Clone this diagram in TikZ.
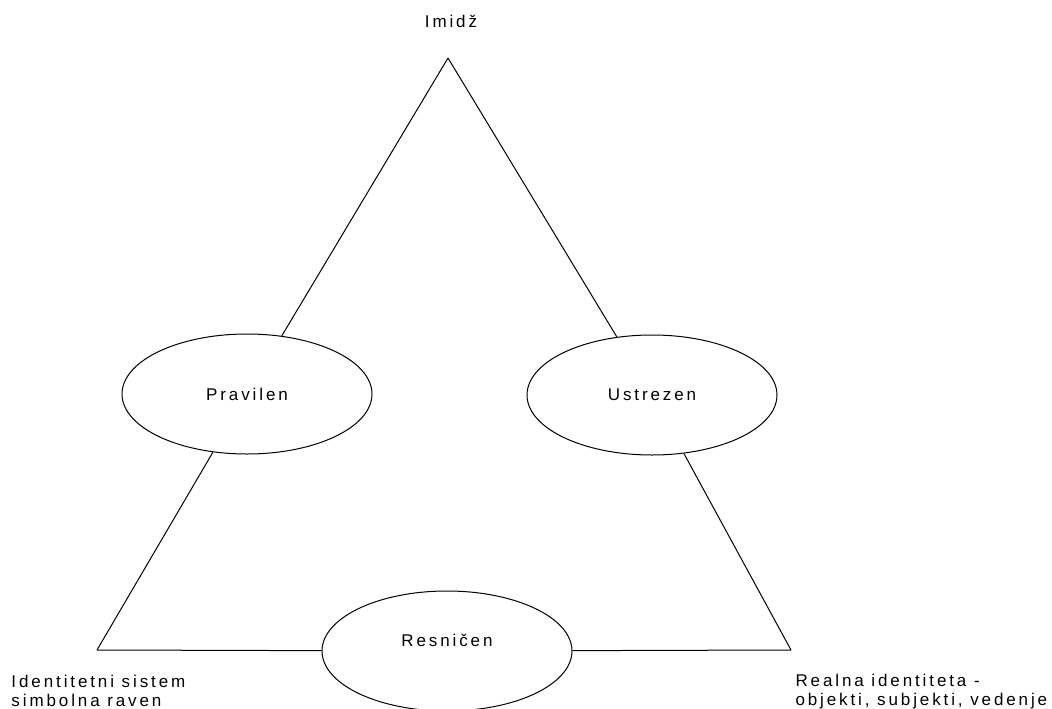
\documentclass[tikz,border=0pt]{standalone}
\usepackage{fontspec}
\usepackage{tikz}
\usetikzlibrary{positioning, shapes}
\newfontfamily\spacedsans[LetterSpace=17]{Liberation Sans}

\begin{document}
\begin{tikzpicture}[
        x=1pt, y=-1pt,
        line width=1pt,
        every node/.style={font=\spacedsans\fontsize{17}{19}\selectfont},
        quality/.style={ellipse, draw, minimum width=250pt, minimum height=120pt, inner sep=0pt},
        cornerlabel/.style={anchor=north west, inner sep=0pt, align=left}
    ]
    \useasboundingbox (0,0) rectangle (1052,709);

    % Triangle corners
    \coordinate (apex) at (448,58);
    \coordinate (lft) at (97,650);
    \coordinate (rgt) at (791,650);

    % Ellipses on the sides
    \node[quality] (pravilen) at (247,394) {Pravilen};
    \node[quality] (ustrezen) at (652,395) {Ustrezen};
    \node[quality, label={[yshift=11pt]center:Resničen}] (resnicen) at (447,651) {};

    % Sides of the triangle
    \draw (apex) -- (pravilen);
    \draw (pravilen) -- (lft);
    \draw (lft) -- (resnicen);
    \draw (resnicen) -- (rgt);
    \draw (rgt) -- (ustrezen);
    \draw (ustrezen) -- (apex);

    % Corner labels
    \node[anchor=base] (imidz) at (451,28) {Imidž};
    \node[cornerlabel] (sistem) at (11,675) {Identitetni sistem\\simbolna raven};
    \node[cornerlabel] (realna) at (795,674) {Realna identiteta -\\objekti, subjekti, vedenje};
\end{tikzpicture}
\end{document}
